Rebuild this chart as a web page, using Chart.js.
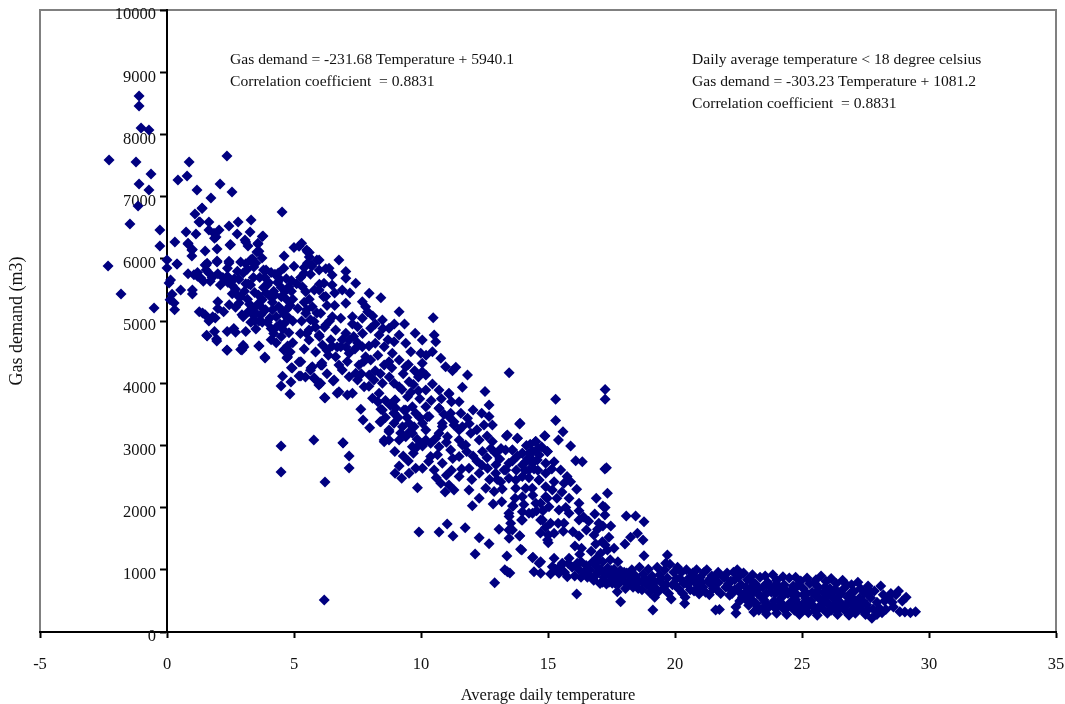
<!DOCTYPE html>
<html>
<head>
<meta charset="utf-8">
<style>
  html, body { margin: 0; padding: 0; background: #fff; }
  #wrap { width: 1065px; height: 704px; }
</style>
<script src="https://cdn.jsdelivr.net/npm/chart.js@4"></script>
</head>
<body>
<div id="wrap"><canvas id="myChart" width="1065" height="704"></canvas></div>
<script>
// [temperature, gas demand], split by temperature band
const belowZero = [[-2.28,7590],[-1.1,8619],[-1.1,8458],[-1.02,8104],[-.71,8072],[-1.22,7558],[-.63,7365],[-1.1,7204],[-.71,7107],[-1.14,6850],[-1.46,6560],[-.28,6464],[-.28,6207],[-2.32,5885],[-1.81,5435],[-.51,5210]];

const from0to5 = [[0,5982],[0,5853],[.08,5612],[.87,7558],[.79,7332],[.43,7268],[2.36,7654],[2.09,7204],[2.56,7075],[1.18,7107],[1.73,6979],[1.38,6818],[1.1,6721],[4.53,6754],[1.26,6593],[1.65,6593],[2.8,6593],[3.31,6625],[2.44,6528],[.75,6432],[1.14,6400],[1.65,6464],[2.05,6464],[1.93,6352],[2.76,6400],[3.27,6432],[3.78,6368],[.31,6271],[.83,6239],[3.07,6303],[2.48,6223],[.98,6142],[1.5,6126],[1.97,6158],[3.19,6207],[3.58,6239],[.98,6046],[3.54,6110],[3.74,6014],[4.61,6046],[.39,5917],[1.54,5901],[1.97,5950],[2.44,5934],[3.31,5982],[3.5,5934],[1.54,5821],[3.9,5821],
[.4,5917],[.14,5660],[.54,5500],[1,5500],[1,5434],[.2,5430],[.28,5290],[.3,5180],[.12,5340],[.83,5760],[1.06,5745],[1.2,5720],[1.43,5640],[1.33,5690],[1.5,5900],[1.58,5930],[1.78,5700],[1.97,5965],[2.44,5960],[2.38,5850],[2,5760],[2.38,5720],[2.1,5580],[2.57,5570],[2.7,5510],[2.83,5670],[2.77,5800],[3,5770],[3.29,5980],[3.42,5870],[3.16,5830],[3.62,6120],[3.36,6000],[3.1,6270],[3.75,6360],[3.58,6250],[2.5,6230],[1,6150],[.83,6250],[1.85,6410],[1.87,6330],[1.3,6590],[1.38,6810],
[1.4,5130],[1.27,5150],[1.5,5100],[2,5310],[2,5200],[2.23,5150],[1.8,5070],[1.65,5000],[1.9,5050],[1.56,4770],[1.87,4830],[1.95,4710],[2.37,4830],[2.63,4880],[2.7,4820],[3.1,4830],[3.5,4870],[2.37,4530],[3,4610],[2.9,4540],[3.62,4600],[3.85,4420],[3.29,5580],[3.17,5350],[2.84,5290],[3.36,5220],[3.42,5090],[3.62,5000],[3.3,4980],[3,5070],[2.57,5440],[2.9,5390],[2.7,5220],[3.8,5540],[3.75,5340],[3.95,5580],[4.08,5390],[3.88,5180],[4.1,4880],[4.2,4800],[4.5,4750],[4.4,5230],[4.5,5540],[4.5,5390],[4.25,5750],[4.38,5770],[3.8,5820],[4.3,5070],[4.62,5100],[4.62,4960],[4.55,4870],[4.8,4810],[4.62,4540],[4.75,4420],[4.55,4110],[4.49,3956],[4.88,4020],[4.84,3827],[4.93,4245],[4.72,4405],[4.6,4534],[1.58,4760],[1.96,4680],[2.36,4534],[3.03,4583],[2.95,4534],[3.62,4600],[3.86,4405],[4.49,2991],[4.49,2573],
[3.4,5700],[3.6,5420],[4,5620],[4.15,5180],[4.2,5480],[4.7,5680],[4.85,5250],[4.9,5480],[4.9,4250],[4.95,5000],[3.2,5150],[2.45,5260],[2.95,5100],[3.95,4980],[3.55,5260],[4.3,4650],[4.7,5350],[4.95,4650],[4.6,5850],
[3.05,5480],[3.5,5130],[3.9,5450],[4.05,5050],[4.35,5620],[4.55,5150],[4.8,5550],[4.8,5050],[2.65,5680],[3.2,5600],[3.65,5700],[3.1,5920],[2.9,5950],[4.1,4700],[4.45,4950],[4.15,5300],[3.7,5100],[2.2,5700],[1.2,5780],[1.7,5640],[4.75,4600],[4.85,4500],
[3.85,5700],[4.1,5780],[4.45,5670],[4.25,5420],[4.65,5480],[3.7,5230],[3.25,5270],[3.45,5460],[4.3,4900],[3.75,4980],[4.7,5180],[4.95,5350],[4.9,5650],[3.45,5000],[3.1,5600],[2.8,5400],[2.4,5620],[1.65,5770]];

const from5to10 = [[5,6180],[5.2,6200],[5.3,6250],[5.6,6100],[5.7,5900],[5.5,6140],[5.6,6030],[5.9,5980],[6.25,5840],[5.7,5880],[5,5880],[5.4,5860],[5.1,5600],[5.26,5700],[5.65,5750],[6,5590],[6.17,5390],[5.5,5180],[5.9,5130],[5.65,5020],[6.2,4900],[5.5,4800],[6,4750],[6.3,4530],[5.65,4210],[6.1,4290],[6,4000],[6.2,3770],[5.2,4116],[6.22,3763],[5.98,3972],[6.54,4036],[6.7,3840],[7.1,3810],[6.1,4325],[5.67,4245],[5.8,4084],[5.2,4340],[5.78,3087],[6.22,2412],[6.19,514],[6.93,3039],[7.17,2830],[7.17,2637],
[5.53,6115],[5.99,5980],[6.77,5980],[5.53,5928],[5.4,5767],[6.38,5847],[6.5,5740],[7.04,5794],[7.04,5686],[5.99,5820],[7.43,5606],[6.5,5580],[5.99,5500],[6.18,5606],[5.33,5550],[5.46,5472],[6.9,5500],[7.04,5284],[7.96,5445],[8.42,5375],[7.69,5311],[7.82,5231],[9.14,5150],[6.25,5392],[5.72,5231],[5.46,5124],[6.05,5124],[6.51,5070],[6.84,5043],[7.3,5070],[7.69,5043],[8.48,5016],[5.79,4990],[6.25,4936],[5.59,4855],[5.99,4775],[6.64,4855],[7.04,4802],[7.5,4909],[8.02,4882],[8.35,4775],[8.74,4882],[9.14,4775],[9.77,4802],[5.59,4695],[6.12,4614],[6.84,4587],[7.17,4695],[7.69,4587],[8.2,4641],[8.55,4587],[9.6,4507],[9.4,4641],[8.94,4668],[9.99,4480],
[6.64,4427],[7.17,4480],[6.77,4293],[6.9,4212],[7.82,4427],[7.56,4293],[8.02,4373],[8.87,4480],[8.74,4346],[9.14,4373],[9.4,4266],[8.55,4293],[5.27,4346],[5.72,4266],[6.05,4293],[5.79,4078],[5.27,4115],[6.05,4000],[6.58,4051],[6.77,3864],[7.17,4105],[7.43,4158],[7.96,4132],[7.3,3837],[7.76,3944],[8.09,3757],[8.35,3837],[8.94,3998],[8.48,3998],[9.14,3944],[9.53,4025],[9.47,3783],[8.98,3730],[7.63,3580],[8.42,3580],[7.72,3408],[8.39,3382],[7.98,3285],[8.94,3515],[8.94,3355],[8.74,3220],[8.55,3060],[6.93,3044],[9.4,3570],[9.66,3623],[9.79,3515],[9.27,3300],[9.73,3300],[9.4,3140],[9.66,2980],[8.74,3087],
[9.33,3570],[8.98,3731],[8.48,3570],[8.94,3516],[8.42,3382],[9.53,3355],[8.74,3248],[8.55,3087],[9.14,3087],[9.66,3195],[8.97,2900],[9.7,2873],[9.14,2669],[9.79,2632],[9.53,2551],[8.98,2551],[9.24,2471],[9.86,2321],[9.92,1608],[5.4,5300],[5.3,5000],[6.6,5250],[7.2,5450],[7.9,5150],[8.2,4950],[8.7,4700],[9.5,4300],[9.9,4100],[7.4,4550],[7.95,4600],[6.3,4150],[6.9,4700],[7.5,4050],[8.2,4200],[8.75,4100],[9.9,3880],
[5.15,5200],[5.25,4800],[5.4,4550],[5.85,4500],[5.45,4100],[6.4,5000],[6.45,4700],[6.7,4580],[7.3,4950],[7.5,4650],[7.7,4800],[8.1,5080],[8.5,4880],[8.95,4950],[9.35,4950],[7.1,4350],[7.65,4150],[8.15,4050],[8.6,3720],[9.3,4150],[9.75,4200],[9.25,3900],[9.1,3450],[9.55,3220],[8.6,3450],[9.2,3200],[9.85,2980],[9.3,2830],[9.5,2750],[9.85,3100],[9.95,3450],[9.95,3750],[9.6,3850],[8.8,3640],[6.35,4450],
[5.8,5500],[5.6,5350],[6.3,5250],[6.6,5450],[5.85,4900],[6.5,4600],[7.35,4750],[7.05,4580],[7.75,4350],[8.3,4450],[8.85,4250],[8.4,4150],[7.95,3950],[9.7,3980],[9,3600],[8.3,3700],[9.45,3450]];

const from10to15 = [[10.48,5054],[10.05,4695],[10.52,4775],[10.58,4668],[10.45,4507],[10.78,4400],[10.97,4266],[11.37,4255],[11.24,4200],[10.05,4320],[10.05,4186],[10.19,4132],[10.45,3987],[10.71,3891],[10.19,3891],[11.1,3826],[11.63,3934],[11.5,3703],[10.19,3623],[10.71,3596],[10.25,3462],[10.19,3248],[10.06,3033],[10.71,3195],[10.38,3033],[11.1,3462],[11.3,3382],[10.84,3355],[11.63,3300],[11.04,3140],[11.5,3087],[11.76,3006],[10.71,2980],
[12.52,3865],[13.47,4170],[11.83,4133],[11.1,3838],[12.68,3650],[12.05,3570],[12.39,3516],[12.68,3463],[13.9,3355],[12.48,3329],[12.81,3329],[11.17,3516],[11.57,3516],[10.71,3597],[10.32,3463],[10.06,3355],[10.84,3302],[11.3,3329],[11.83,3436],[11.96,3195],[11.5,3248],[10.19,3087],[10.58,3114],[11.17,2927],[11.63,3007],[12.29,3087],[12.81,3061],[13.4,3168],[13.8,3114],[14.52,3061],[14.87,3157],[13.6,2927],[13.99,2873],[14.39,2766],[14.25,2605],[14.65,2846],[14.98,2900],[12.42,2900],[12.94,2873],[10.06,2991],[10.38,2820],[10.52,2605],[10.84,2712],[11.5,2820],[11.89,2632],[12.29,2551],[12.62,2632],[12.94,2551],[13.34,2605],[13.73,2444],[14.12,2310],[10.06,2632],[10.78,2391],[11.1,2364],[11.3,2283],[11.89,2283],[11.5,2498],[12.55,2310],[12.88,2257],[12.29,2149],[12.02,2031],[12.84,2058],[13.18,2096],[13.63,2026],[13.47,1855],[13.53,1747],[13.6,1640],[13.99,1935],[13.99,1801],[13.07,1651],[13.47,1506],[13.89,1549],[14.39,1908],[14.78,1801],[14.98,1480],[14.52,2069],[14.91,2337],[14.65,2444],[14.91,2176],[13.99,2176],
[10.71,1608],[11.03,1737],[11.26,1544],[11.74,1678],[12.29,1517],[12.68,1420],[12.13,1254],[13.38,1222],[13.97,1319],[14.39,1195],[14.65,1104],[12.9,790],[13.4,970],[13.5,950],[13.3,1000],
[13.88,3345],[14.88,3152],[14.51,3061],[13.79,3114],[13.36,3152],[14.97,2900],[13.6,2927],[13.33,2927],[14.25,2873],[13.99,2873],[14.58,2766],[14.38,2712],[13.99,2685],[14.91,2712],[14.91,2552],[14.64,2444],[14.38,2310],[13.99,2498],[13.46,2712],[13.27,2605],[13.46,2471],[13.73,2310],[13.14,2417],[14.97,2149],[14.71,2069],[14.25,1908],[13.6,2026],[13.96,1801],[13.46,1908],[14.71,1801],[13.88,1544],[13.46,1640],[14.41,1201],[14.71,1131],[14.45,970],[14.71,943],[13.92,1329],
[11.2,3700],[11.9,3350],[12.2,3250],[12.6,3150],[13.1,2780],[12.6,2800],[12.2,2750],[11.6,2620],[11.2,2600],[13.6,2750],[14.1,2600],[14.4,2900],[14.6,2600],[14.2,2780],[13.7,2150],[13,2450],[14.15,3000],[14.75,2980],
[10.3,2740],[10.65,2850],[11,3050],[11.25,2790],[10.9,3500],[10.4,3720],[10.8,3750],[10.2,4450],[11.8,2900],[12.05,2830],[12.4,2680],[12.95,2690],[12.75,2950],[13.15,2950],[13.8,2830],[14.45,2620],[14.25,2480],[14.1,2730],[14.6,2950],[14.3,3020],[13.75,2600],[13.2,2300],[12.7,2450],[14.4,2200],[14.05,2050],[14.8,1950],[14.9,1680],[14.7,1590],[14.55,1950],[11,2520],[10.6,2480],[10.95,2250],[12,2450]];

const from15to20 = [[15.59,3221],[15.41,3087],[15.89,2991],[16.09,2755],[16.35,2739],[17.24,2621],[15.24,2739],[15.5,2605],[15.24,2417],[15.89,2417],[16.13,2294],[15.63,2391],[15.17,2283],[17.34,2230],[16.9,2149],[15.83,2149],[16.22,2069],[17.16,2026],[16.22,1951],[15.04,2015],[15.1,1747],[15.43,1962],[15.83,1908],[15.63,1747],[16.22,1801],[16.84,1897],[17.24,1881],[18.08,1865],[18.45,1865],[18.78,1774],[17.16,1705],[17.47,1705],[15.98,1613],[16.22,1544],[16.51,1640],[16.81,1560],[15.24,1587],[15.01,1560],[15.01,1436],[17.4,1522],[18.74,1480],[18.52,1587],[18.25,1522],[18.03,1415],[16.88,1415],[17.14,1452],[17.6,1345],[17.34,1318],[17.07,1265],[16.06,1383],[16.32,1345],[18.78,1227],[15.24,1185],[15.83,1185],[15.56,1104],[16.15,1104],[15.17,1051],[15.1,933],[15.43,943],[15.76,890],[16.13,611],[17.86,488],[19.13,354],[17.73,649],[17.53,783],[19.7,1238],[19.63,1105],[15.3,3740],[15.3,3400],[17.25,3900],[17.25,3740],[17.3,2640],
[15.3,1010],[15.5,1060],[15.65,960],[15.8,1100],[15.95,1040],[16.05,900],[16.2,1010],[16.3,1130],[16.4,960],[16.5,1070],[16.55,880],[16.65,1000],[16.75,1120],[16.8,830],[16.9,920],[16.95,1040],[17.05,780],[17.1,1000],[17.2,880],[17.3,770],[17.35,1030],[17.45,930],[17.55,840],[17.6,1010],[17.7,900],[17.8,780],[17.85,990],[17.95,880],[18.05,700],[18.1,950],[18.2,820],[18.3,1000],[18.35,720],[18.45,900],[18.55,790],[18.6,1040],[18.7,680],[18.75,930],[18.85,830],[18.95,1010],[19.05,730],[19.1,900],[19.2,800],[19.3,1040],[19.35,650],[19.4,920],[19.5,780],[19.6,1000],[19.7,870],[19.75,620],[19.8,1090],[19.9,760],[19.95,960],[19.2,560],[19.85,530],
[15.35,2150],[15.55,2250],[15.7,2000],[15.4,1750],[15.75,2500],[15.15,2620],[16.4,1850],[16.6,1780],[17.25,2000],[16.95,1650],[15.6,1620],[17,1750],[16.25,1250],[17.25,1400],[16.7,1300],[16.9,1180],[17.15,1130],[17.45,1160],[17.75,1130],[16.75,860],[17.15,800],[17.65,780],[18.1,780],[18.55,700],[19,850],[19.55,700],[17.4,800],[18.7,820],[16.3,880],[16.85,1100],
[16.95,960],[17.25,950],[17.5,990],[18,960],[18.25,890],[18.5,850],[18.9,760],[19.25,700],[19.45,860],[19.65,760],[19,640],[18.4,790],[17.9,830],[16.6,920]];

const above20 = [[20.05,860],[20.1,1040],[20.15,690],[20.25,960],[20.38,460],[20.35,780],[20.4,560],[20.45,1000],[20.55,870],[20.6,680],[20.7,950],[20.8,790],[20.85,1000],[20.95,610],[21,880],[21.1,720],[21.15,960],[21.25,1000],[21.3,810],[21.35,600],[21.45,900],[21.5,700],[21.6,353],[21.7,960],[21.7,790],[21.75,360],[21.8,620],[21.9,880],[22,720],[22.05,950],[22.15,590],[22.2,820],[22.3,960],[22.35,680],[22.4,300],[22.4,400],[22.45,1000],[22.5,880],[22.55,500],[22.6,760],[22.7,950],[22.75,620],[22.85,840],[22.9,430],[22.95,700],[23.05,920],[23.1,320],[23.15,780],[23.25,620],[23.3,350],[23.35,880],[23.45,720],[23.5,520],[23.55,900],[23.6,290],[23.65,800],[23.7,400],[23.8,640],[23.85,920],[23.9,500],[24,830],[24,300],[24.05,700],[24.15,420],[24.2,560],[24.25,890],[24.3,760],[24.4,280],[24.45,620],[24.5,870],[24.55,480],[24.65,740],[24.7,350],[24.75,880],[24.8,600],[24.9,280],[24.95,820],[25,440],[25.05,700],[25.15,540],[25.2,870],[25.25,310],[25.3,780],[25.4,640],[25.45,420],[25.55,840],[25.6,270],[25.65,720],[25.7,530],[25.75,900],[25.8,380],[25.85,630],[25.95,810],[26,300],[26,480],[26.1,700],[26.15,860],[26.2,560],[26.3,380],[26.35,780],[26.4,280],[26.45,640],[26.5,480],[26.6,830],[26.65,700],[26.7,340],[26.8,560],[26.85,270],[26.95,760],[27,440],[27.05,650],[27.1,300],[27.2,800],[27.25,540],[27.3,700],[27.35,360],[27.45,620],[27.5,280],[27.55,440],[27.6,740],[27.7,550],[27.75,220],[27.8,370],[27.85,660],[27.95,280],[28.1,740],[28.15,310],[28.2,600],[28.3,360],[28.4,550],[28.5,620],[28.6,400],[28.7,600],[28.8,660],[28.85,327],[28.95,500],[29.05,320],[29.1,560],[29.27,310],[29.47,327],
[20.2,860],[20.9,700],[21.4,770],[21.95,880],[22.45,700],[22.95,850],[23.4,560],[23.75,720],[24.35,680],[24.85,760],[25.35,500],[25.9,720],[26.55,620],[27.15,480],[20.6,830],[21.55,870],[22.25,620],[23.95,620],[24.6,400],[25.1,360],[26.25,430],[26.85,500],
[20,760],[20.3,620],[20.75,660],[21.2,640],[21.65,680],[22.1,770],[22.35,840],[22.65,560],[22.8,720],[23.2,460],[23.45,380],[23.6,620],[23.85,430],[24.1,500],[24.3,360],[24.55,660],[24.75,520],[24.95,360],[25.2,620],[25.5,340],[25.55,580],[25.75,440],[26.05,620],[26.15,350],[26.35,540],[26.6,400],[26.95,350],[26.9,620],[27.25,400],[27.55,640],[27.95,480],[23.05,620],[23,530],[24.25,440],[24.85,440],[25.3,440],[25.9,540],[26.4,440],[27,540],[27.6,360],[22.85,500],[23.3,700],[24,770],[24.65,600],[25.5,780],[26.3,680],[26.75,760],
[20.5,760],[21.05,800],[21.6,820],[22.15,700],[22.55,640],[23.1,700],[23.55,480],[24.15,650],[24.7,690],[25.05,600],[25.6,650],[26.2,650],[26.5,380],[27.1,380],[27.4,500],[27.7,650],[28.05,380],[28.25,500],[28.55,480],[20.8,880],[21.4,860],[22.95,600],[23.25,400],[23.95,380],[24.45,400],[25.15,440],[25.65,370],[26.1,420],[26.75,430],[27.3,440]];

const xTicks = [-5, 0, 5, 10, 15, 20, 25, 30, 35];
const yTickStep = 1000;
const xLabel = 'Average daily temperature';
const yLabel = 'Gas demand (m3)';
const noteAll = ['Gas demand = -231.68 Temperature + 5940.1', 'Correlation coefficient  = 0.8831'];
const noteCold = ['Daily average temperature < 18 degree celsius', 'Gas demand = -303.23 Temperature + 1081.2', 'Correlation coefficient  = 0.8831'];

const points = [...belowZero, ...from0to5, ...from5to10, ...from10to15, ...from15to20, ...above20]
    .map(p => ({x: p[0], y: p[1]}));

const serif = '"Liberation Serif", "Times New Roman", serif';

const framePlugin = {
    id: 'frame',
    beforeDraw(chart) {
        const {ctx, chartArea: a} = chart;
        ctx.save();
        ctx.strokeStyle = '#808080';
        ctx.lineWidth = 2;
        ctx.strokeRect(a.left, a.top, a.right - a.left, a.bottom - a.top);
        ctx.restore();
    },
    afterDraw(chart) {
        const ctx = chart.ctx;
        ctx.save();
        ctx.fillStyle = '#111';
        ctx.font = '15.6px ' + serif;
        ctx.textBaseline = 'middle';
        noteAll.forEach((s, i) => ctx.fillText(s, 230, 60 + i * 22));
        noteCold.forEach((s, i) => ctx.fillText(s, 692, 60 + i * 22));
        ctx.restore();
    }
};

const ctx = document.getElementById('myChart').getContext('2d');

const myChart = new Chart(ctx, {
    type: 'scatter',
    data: {
        datasets: [{
            label: 'Gas demand',
            data: points,
            pointStyle: 'rectRot',
            pointRadius: 5.5,
            backgroundColor: '#000080',
            borderColor: '#000080',
            borderWidth: 0
        }]
    },
    options: {
        responsive: false,
        animation: false,
        layout: {padding: {left: 0, right: 9, top: 10, bottom: 0}},
        plugins: {legend: {display: false}, tooltip: {enabled: false}},
        scales: {
            x: {
                type: 'linear',
                position: 'bottom',
                min: xTicks[0],
                max: xTicks[xTicks.length - 1],
                afterFit: s => { s.height = 72; s.paddingLeft = 0; s.paddingRight = 0; },
                afterBuildTicks: s => { s.ticks = xTicks.map(v => ({value: v})); },
                border: {color: '#000', width: 2},
                grid: {drawOnChartArea: false, tickColor: '#000', tickWidth: 2, tickLength: 6},
                ticks: {color: '#111', font: {family: serif, size: 16.5}, padding: 17, maxRotation: 0, autoSkip: false, callback: v => String(v)},
                title: {display: true, text: xLabel, color: '#111', font: {family: serif, size: 16.5}, padding: {top: 0, bottom: -2}}
            },
            // axis line and tick marks cross at x = 0
            y: {
                type: 'linear',
                position: {x: 0},
                min: 0,
                max: 10000,
                afterFit: s => { s.paddingTop = 0; s.paddingBottom = 0; },
                border: {color: '#000', width: 2},
                grid: {drawOnChartArea: false, tickColor: '#000', tickWidth: 2, tickLength: 6},
                ticks: {display: false, stepSize: yTickStep}
            },
            // labels sit just left of the tick marks
            yLabels: {
                type: 'linear',
                position: {x: -0.43},
                min: 0,
                max: 10000,
                afterFit: s => { s.paddingTop = 0; s.paddingBottom = 0; },
                border: {display: false},
                grid: {display: false},
                ticks: {stepSize: yTickStep, color: '#111', font: {family: serif, size: 16.5}, labelOffset: 5, autoSkip: false, callback: v => String(v)}
            },
            yName: {
                type: 'linear',
                position: 'left',
                afterFit: s => { s.width = 40; s.paddingTop = 0; s.paddingBottom = 0; },
                border: {display: false},
                grid: {display: false},
                ticks: {display: false},
                title: {display: true, text: yLabel, color: '#111', font: {family: serif, size: 18}, padding: {top: 6, bottom: 0}}
            }
        }
    },
    plugins: [framePlugin]
});
</script>
</body>
</html>
